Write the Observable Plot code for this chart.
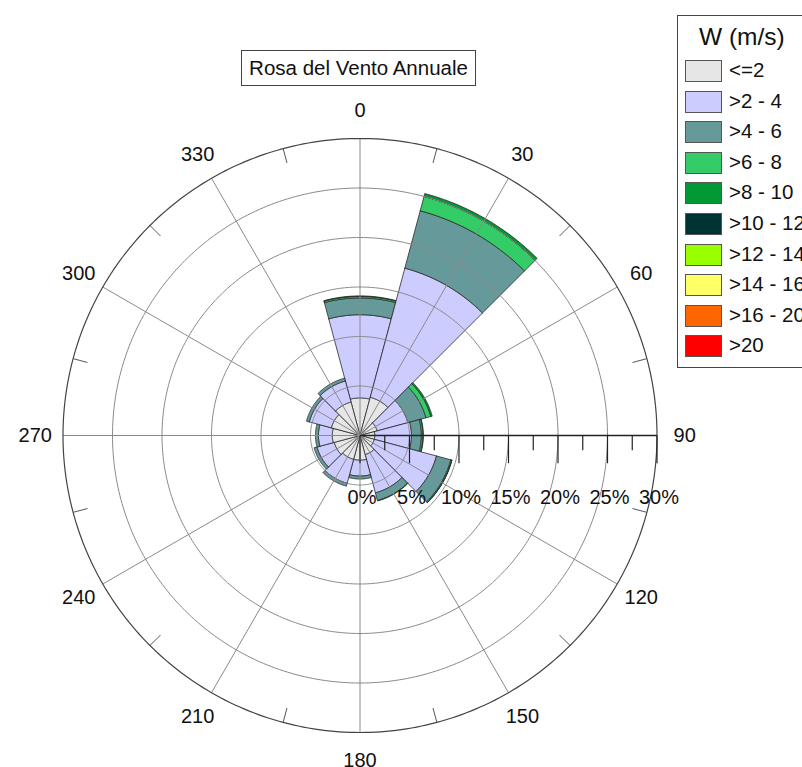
<!DOCTYPE html>
<html><head><meta charset="utf-8">
<script src="https://cdn.jsdelivr.net/npm/d3@7"></script>
<script src="https://cdn.jsdelivr.net/npm/@observablehq/plot@0.6"></script>
<style>
body{margin:0;background:#fff;font-family:"Liberation Sans",Arial,sans-serif;}
#wrap{position:relative;width:802px;height:767px;overflow:hidden;}
#title{position:absolute;left:241px;top:50px;width:233px;height:34px;border:1px solid #444;font-size:20.5px;line-height:34px;text-align:center;color:#111;background:#fff;}
#legend{position:absolute;left:677px;top:15px;width:150px;height:351px;border:1px solid #444;background:#fff;}
#legend .lt{position:absolute;left:21px;top:7px;font-size:24.5px;color:#111;white-space:nowrap;}
#legend .it{position:absolute;left:7px;height:22px;}
#legend .sw{position:absolute;left:0;top:0;width:35px;height:20px;border:1px solid #555;}
#legend .lb{position:absolute;left:44px;top:-1px;font-size:20.5px;line-height:22px;color:#111;white-space:nowrap;}
</style></head>
<body><div id="wrap"><div id="chart"></div><div id="title"></div><div id="legend"></div></div>
<script>
// ---- data ----
const chartTitle = "Rosa del Vento Annuale";
const legendTitle = "W (m/s)";
const directions = [0, 30, 60, 90, 120, 150, 180, 210, 240, 270, 300, 330];
const sectorWidth = 30;
const speedBins = ["<=2", ">2 - 4", ">4 - 6", ">6 - 8", ">8 - 10", ">10 - 12", ">12 - 14", ">14 - 16", ">16 - 20", ">20"];
const binColors = ["#E6E6E6", "#CCCCFF", "#669999", "#33CC66", "#009933", "#003333", "#99FF00", "#FFFF66", "#FF6600", "#FF0000"];
// frequency (%) of each speed class, per direction
const freqLe2   = [3.8, 4.0, 1.8, 1.5, 1.5, 2.0, 2.5, 2.5, 2.7, 2.8, 3.0, 3.5];
const freq2to4  = [8.4, 13.5, 3.2, 3.7, 6.5, 4.0, 1.6, 2.5, 1.8, 1.4, 2.3, 2.2];
const freq4to6  = [1.7, 6.0, 1.9, 1.0, 1.5, 0.8, 0.3, 0.3, 0.3, 0.3, 0.3, 0.3];
const freq6to8  = [0.15, 1.5, 0.5, 0.15, 0.1, 0.05, 0, 0, 0, 0, 0, 0];
const freq8to10 = [0.05, 0.3, 0.15, 0.05, 0.02, 0, 0, 0, 0, 0, 0, 0];
const freq10to12 = [0, 0, 0, 0, 0, 0, 0, 0, 0, 0, 0, 0];
const freq12to14 = [0, 0, 0, 0, 0, 0, 0, 0, 0, 0, 0, 0];
const freq14to16 = [0, 0, 0, 0, 0, 0, 0, 0, 0, 0, 0, 0];
const freq16to20 = [0, 0, 0, 0, 0, 0, 0, 0, 0, 0, 0, 0];
const freqGt20  = [0, 0, 0, 0, 0, 0, 0, 0, 0, 0, 0, 0];
const angleTicks = [0, 30, 60, 90, 120, 150, 180, 210, 240, 270, 300, 330];
const minorAngleTicks = [15, 45, 75, 105, 135, 165, 195, 225, 255, 285, 315, 345];
const radialTicks = [0, 5, 10, 15, 20, 25, 30];
const radialMinorTicks = [2.5, 7.5, 12.5, 17.5, 22.5, 27.5];
const rMax = 30;

// ---- layout ----
const W = 802, H = 767;
const cx = 359.5, cy = 435, pxPerPct = 9.9;
const xDomain = [-cx / pxPerPct, (W - cx) / pxPerPct];
const yDomain = [-(H - cy) / pxPerPct, cy / pxPerPct];

const rad = d => d * Math.PI / 180;
const px = (r, a) => r * Math.sin(rad(a));
const py = (r, a) => r * Math.cos(rad(a));

const binSeries = [freqLe2, freq2to4, freq4to6, freq6to8, freq8to10, freq10to12, freq12to14, freq14to16, freq16to20, freqGt20];

// wedge polygons
const wedges = [];
directions.forEach((dir, i) => {
  let r0 = 0;
  binSeries.forEach((series, b) => {
    const v = series[i];
    if (!v) return;
    const r1 = r0 + v;
    const id = dir + "-" + b;
    const a0 = dir - sectorWidth / 2, a1 = dir + sectorWidth / 2;
    const n = 40, pts = [];
    for (let k = 0; k <= n; k++) { const a = a0 + (a1 - a0) * k / n; pts.push({id, bin: speedBins[b], x: px(r0, a), y: py(r0, a)}); }
    for (let k = n; k >= 0; k--) { const a = a0 + (a1 - a0) * k / n; pts.push({id, bin: speedBins[b], x: px(r1, a), y: py(r1, a)}); }
    pts.push({...pts[0]});
    wedges.push(...pts);
    r0 = r1;
  });
});

// grid circles
const circles = [];
radialTicks.filter(t => t > 0).forEach(t => {
  for (let a = 0; a <= 360; a += 1) circles.push({r: t, x: px(t, a), y: py(t, a)});
});

const spokes = angleTicks.map(a => ({a, x1: 0, y1: 0, x2: px(rMax, a), y2: py(rMax, a)}));
const outerTicks = minorAngleTicks.map(a => ({x1: px(rMax, a), y1: py(rMax, a), x2: px(rMax - 1.5, a), y2: py(rMax - 1.5, a)}));
const rTicksMajor = radialTicks.map(t => ({t, len: 2.8}));
const rTicksMinor = radialMinorTicks.map(t => ({t, len: 1.5}));
const rTicks = rTicksMajor.concat(rTicksMinor);

const labelR = 32.8;
const angleLabels = angleTicks.map(a => ({a, x: px(labelR, a), y: py(labelR, a), text: String(a)}));

const chart = Plot.plot({
  width: W, height: H,
  margin: 0,
  x: {domain: xDomain, axis: null},
  y: {domain: yDomain, axis: null},
  color: {type: "ordinal", domain: speedBins, range: binColors},
  style: {fontFamily: "Liberation Sans, Arial, sans-serif", background: "#fff"},
  marks: [
    Plot.line(wedges, {x: "x", y: "y", z: "id", fill: "bin", stroke: "#2a2a2a", strokeWidth: 0.8, strokeLinejoin: "miter"}),
    Plot.line(circles.filter(d => d.r < rMax), {x: "x", y: "y", z: "r", stroke: "#8a8a8a", strokeWidth: 1}),
    Plot.link(spokes, {x1: "x1", y1: "y1", x2: "x2", y2: "y2", stroke: "#8a8a8a", strokeWidth: 1}),
    Plot.line(circles.filter(d => d.r === rMax), {x: "x", y: "y", z: "r", stroke: "#444", strokeWidth: 1.2}),
    Plot.link(outerTicks, {x1: "x1", y1: "y1", x2: "x2", y2: "y2", stroke: "#555", strokeWidth: 1}),
    Plot.link([{x1: 0, x2: rMax}], {x1: "x1", x2: "x2", y1: () => 0, y2: () => 0, stroke: "#222", strokeWidth: 1.5}),
    Plot.link(rTicks, {x1: "t", x2: "t", y1: () => 0, y2: d => -d.len, stroke: "#222", strokeWidth: 1.2}),
    Plot.text(radialTicks, {x: d => d + 0.2, y: () => -6.25, text: d => d + "%", fontSize: 20, fill: "#111"}),
    Plot.text(angleLabels, {x: "x", y: "y", text: "text", fontSize: 20, fill: "#111"})
  ]
});
document.getElementById("chart").appendChild(chart);

document.getElementById("title").textContent = chartTitle;
const leg = document.getElementById("legend");
const lt = document.createElement("div"); lt.className = "lt"; lt.textContent = legendTitle; leg.appendChild(lt);
speedBins.forEach((b, i) => {
  const it = document.createElement("div"); it.className = "it"; it.style.top = (44 + i * 30.6) + "px";
  const sw = document.createElement("div"); sw.className = "sw"; sw.style.background = binColors[i];
  const lb = document.createElement("div"); lb.className = "lb"; lb.textContent = b;
  it.appendChild(sw); it.appendChild(lb); leg.appendChild(it);
});
</script></body></html>
